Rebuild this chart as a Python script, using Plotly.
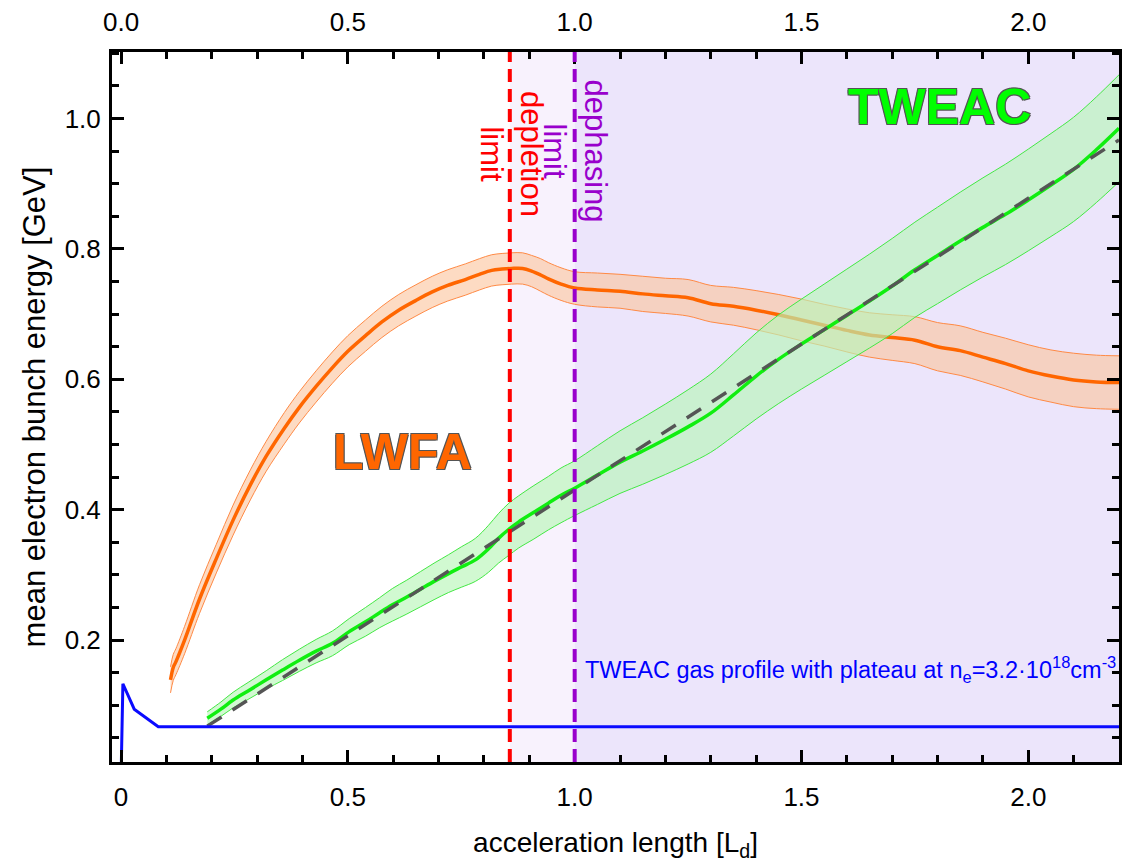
import numpy as np
import plotly.graph_objects as go

# ---------------- data ----------------
lwfa_x = [0.109, 0.115, 0.121, 0.14, 0.173, 0.21, 0.247, 0.285, 0.320, 0.36, 0.393, 0.43, 0.466, 0.50,
          0.539, 0.575, 0.612, 0.65, 0.686, 0.72, 0.759, 0.79, 0.817, 0.84, 0.861, 0.885, 0.905, 0.925,
          0.942, 0.97, 1.0, 1.05, 1.1, 1.15, 1.2, 1.25, 1.3, 1.35, 1.4, 1.45, 1.5, 1.55, 1.6, 1.65, 1.7,
          1.75, 1.8, 1.85, 1.9, 1.95, 2.0, 2.05, 2.1, 2.15, 2.2]
lwfa_y = [0.139, 0.158, 0.167, 0.200, 0.263, 0.325, 0.384, 0.438, 0.482, 0.525, 0.557, 0.589, 0.618, 0.643,
          0.667, 0.688, 0.706, 0.721, 0.734, 0.744, 0.753, 0.761, 0.767, 0.769, 0.770, 0.770, 0.766, 0.760,
          0.754, 0.746, 0.740, 0.737, 0.735, 0.731, 0.728, 0.725, 0.716, 0.712, 0.706, 0.699, 0.691, 0.683,
          0.675, 0.668, 0.664, 0.660, 0.650, 0.644, 0.634, 0.624, 0.613, 0.605, 0.599, 0.596, 0.595]
lwfa_err = [0.020, 0.020, 0.020, 0.021, 0.022, 0.022, 0.023, 0.023, 0.023, 0.024, 0.024, 0.024, 0.024, 0.024,
            0.024, 0.024, 0.024, 0.024, 0.024, 0.024, 0.024, 0.024, 0.024, 0.024, 0.024, 0.024, 0.024, 0.025,
            0.025, 0.025, 0.025, 0.026, 0.026, 0.027, 0.027, 0.028, 0.028, 0.029, 0.030, 0.031, 0.032, 0.032,
            0.033, 0.034, 0.035, 0.036, 0.037, 0.038, 0.038, 0.039, 0.040, 0.040, 0.041, 0.041, 0.041]

tweac_x = [0.19, 0.22, 0.247, 0.28, 0.32, 0.356, 0.393, 0.43, 0.466, 0.503, 0.539, 0.57, 0.598, 0.63, 0.66,
           0.69, 0.722, 0.75, 0.781, 0.81, 0.832, 0.855, 0.876, 0.91, 0.942, 0.97, 1.0, 1.05, 1.1, 1.15, 1.2,
           1.25, 1.3, 1.35, 1.4, 1.45, 1.5, 1.55, 1.6, 1.65, 1.7, 1.75, 1.8, 1.85, 1.9, 1.95, 2.0, 2.05, 2.1,
           2.15, 2.2]
tweac_y = [0.080, 0.094, 0.108, 0.122, 0.139, 0.154, 0.169, 0.183, 0.195, 0.213, 0.228, 0.242, 0.254, 0.266,
           0.278, 0.290, 0.302, 0.312, 0.323, 0.340, 0.356, 0.370, 0.381, 0.396, 0.410, 0.422, 0.433, 0.453,
           0.473, 0.490, 0.508, 0.527, 0.548, 0.576, 0.605, 0.631, 0.654, 0.676, 0.698, 0.720, 0.743, 0.768,
           0.790, 0.812, 0.833, 0.853, 0.875, 0.898, 0.922, 0.952, 0.985]
tweac_err = [0.010, 0.011, 0.012, 0.013, 0.014, 0.016, 0.017, 0.018, 0.019, 0.020, 0.022, 0.023, 0.025, 0.026,
             0.027, 0.028, 0.029, 0.031, 0.033, 0.036, 0.038, 0.040, 0.040, 0.041, 0.041, 0.042, 0.042, 0.045,
             0.048, 0.051, 0.054, 0.057, 0.060, 0.063, 0.066, 0.068, 0.069, 0.070, 0.071, 0.072, 0.073, 0.073,
             0.074, 0.075, 0.076, 0.077, 0.078, 0.079, 0.080, 0.081, 0.082]

fit_x = [0.19, 2.2]
fit_y = [0.068, 0.967]

gas_x = [0.0, 0.004, 0.029, 0.082, 2.2]
gas_y = [-0.01, 0.133, 0.094, 0.067, 0.067]

depletion_x = 0.857
dephasing_x = 1.0

x_range = [-0.02, 2.2]
y_range = [0.013, 1.102]

bottom_tickvals = [0, 0.5, 1.0, 1.5, 2.0]
bottom_ticktext = ["0", "0.5", "1.0", "1.5", "2.0"]
top_ticktext = ["0.0", "0.5", "1.0", "1.5", "2.0"]
y_tickvals = [0.2, 0.4, 0.6, 0.8, 1.0]
y_ticktext = ["0.2", "0.4", "0.6", "0.8", "1.0"]

# ---------------- figure ----------------
FONT = "Liberation Sans, Arial, sans-serif"
fig = go.Figure()


def band(x, y, e, edge, fill):
    x = np.array(x); y = np.array(y); e = np.array(e)
    fig.add_trace(go.Scatter(x=x, y=y - e, mode="lines", line=dict(color=edge, width=1, shape="spline"),
                             hoverinfo="skip", showlegend=False))
    fig.add_trace(go.Scatter(x=x, y=y + e, mode="lines", line=dict(color=edge, width=1, shape="spline"),
                             fill="tonexty", fillcolor=fill, hoverinfo="skip", showlegend=False))


band(lwfa_x, lwfa_y, lwfa_err, "#ff8a45", "rgba(252,195,155,0.6)")
fig.add_trace(go.Scatter(x=lwfa_x, y=lwfa_y, mode="lines", line=dict(color="#ff6600", width=3.5, shape="spline"),
                         name="LWFA", showlegend=False))
band(tweac_x, tweac_y, tweac_err, "#44e844", "rgba(185,246,185,0.65)")
fig.add_trace(go.Scatter(x=tweac_x, y=tweac_y, mode="lines", line=dict(color="#10ee10", width=3.5, shape="spline"),
                         name="TWEAC", showlegend=False))
fig.add_trace(go.Scatter(x=fit_x, y=fit_y, mode="lines", line=dict(color="#555555", width=3.5, dash="17px,13px"),
                         showlegend=False))
fig.add_trace(go.Scatter(x=gas_x, y=gas_y, mode="lines", line=dict(color="#0a0aff", width=3),
                         showlegend=False))

# background regions
fig.add_shape(type="rect", xref="x", yref="y domain", x0=depletion_x, x1=dephasing_x, y0=0, y1=1,
              fillcolor="#f8f2fd", line=dict(width=0), layer="below")
fig.add_shape(type="rect", xref="x", yref="y domain", x0=dephasing_x, x1=x_range[1], y0=0, y1=1,
              fillcolor="#ece5fb", line=dict(width=0), layer="below")
# limit lines
fig.add_shape(type="line", xref="x", yref="y domain", x0=depletion_x, x1=depletion_x, y0=0, y1=1,
              line=dict(color="#ff0000", width=4, dash="13px,7px"), layer="above")
fig.add_shape(type="line", xref="x", yref="y domain", x0=dephasing_x, x1=dephasing_x, y0=0, y1=1,
              line=dict(color="#9900cc", width=4, dash="13px,7px"), layer="above")

outline = "-1px -1px 0 #555, 1px -1px 0 #555, -1px 1px 0 #555, 1px 1px 0 #555"
fig.add_annotation(x=0.62, y=0.488, xref="x", yref="y", text="<b>LWFA</b>", showarrow=False,
                   font=dict(family=FONT, size=50, color="#ff6600", shadow=outline))
fig.add_annotation(x=1.805, y=1.017, xref="x", yref="y", text="<b>TWEAC</b>", showarrow=False,
                   font=dict(family=FONT, size=50, color="#00ff00", shadow=outline))
fig.add_annotation(x=0.861, y=0.946, xref="x", yref="y", text="depletion<br>limit", textangle=90,
                   showarrow=False, font=dict(family=FONT, size=31, color="#ff0000"))
fig.add_annotation(x=1.002, y=0.95, xref="x", yref="y", text="dephasing<br>limit", textangle=90,
                   showarrow=False, font=dict(family=FONT, size=31, color="#9900cc"))
fig.add_annotation(x=1.018, y=0.155, xref="x", yref="y", xanchor="left", showarrow=False,
                   text="TWEAC gas profile with plateau at n<sub>e</sub>=3.2·10<sup>18</sup>cm<sup>-3</sup>",
                   font=dict(family=FONT, size=23.5, color="#0000ff"))

axis_common = dict(showline=True, linecolor="black", linewidth=3, ticks="inside", ticklen=12,
                   tickwidth=3, tickcolor="black", showgrid=False, zeroline=False,
                   tickfont=dict(family=FONT, size=26, color="black"))

fig.update_layout(
    width=1124, height=863,
    margin=dict(l=112, r=2, t=52, b=101),
    paper_bgcolor="white", plot_bgcolor="white",
    xaxis=dict(range=x_range, tickvals=bottom_tickvals, ticktext=bottom_ticktext, mirror=False,
               ticklabelstandoff=10,
               minor=dict(ticks="inside", dtick=0.1, tick0=0, ticklen=7, tickwidth=2.5, tickcolor="black"),
               title=dict(text="acceleration length [L<sub>d</sub>]", font=dict(family=FONT, size=28, color="black"),
                          standoff=22),
               **axis_common),
    xaxis2=dict(range=x_range, overlaying="x", side="top", anchor="y", tickvals=bottom_tickvals,
                ticktext=top_ticktext, ticklabelstandoff=8,
                minor=dict(ticks="inside", dtick=0.1, tick0=0, ticklen=7, tickwidth=2.5, tickcolor="black"),
                **axis_common),
    yaxis=dict(range=y_range, tickvals=y_tickvals, ticktext=y_ticktext, mirror="ticks",
               ticklabelstandoff=3,
               minor=dict(ticks="inside", dtick=0.05, tick0=0, ticklen=7, tickwidth=2.5, tickcolor="black"),
               title=dict(text="mean electron bunch energy [GeV]", font=dict(family=FONT, size=31, color="black"),
                          standoff=10),
               **axis_common),
)
# dummy trace to activate the top axis
fig.add_trace(go.Scatter(x=[x_range[0]], y=[y_range[0]], xaxis="x2", mode="markers",
                         marker=dict(opacity=0), hoverinfo="skip", showlegend=False))

fig.write_html("out.html")
